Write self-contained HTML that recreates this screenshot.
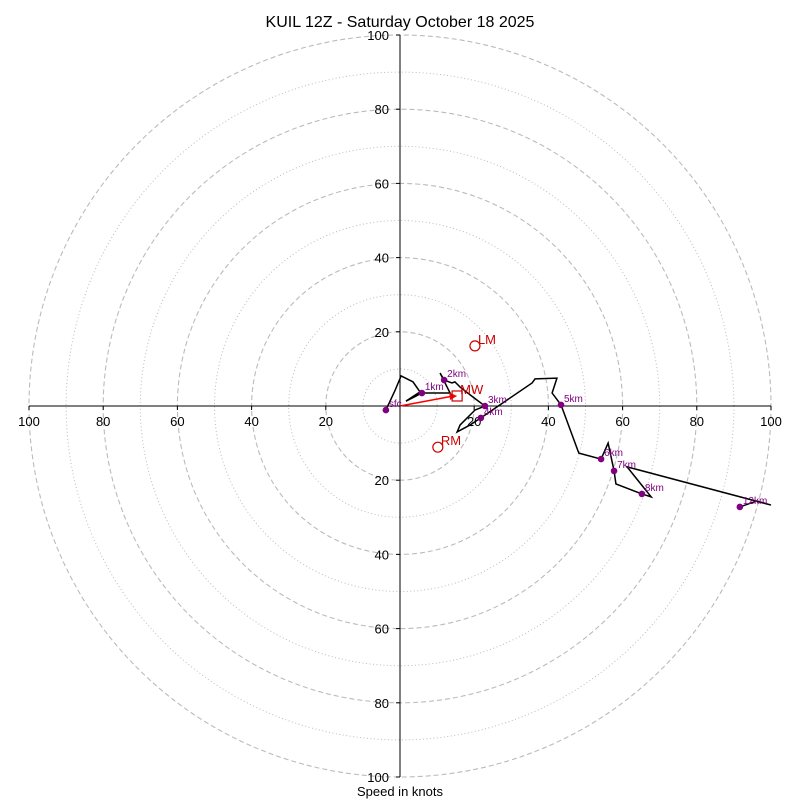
<!DOCTYPE html>
<html><head><meta charset="utf-8"><style>
body{margin:0;background:#fff;}
svg{display:block;font-family:"Liberation Sans","DejaVu Sans",sans-serif;}
</style></head><body>
<svg id="chart" width="800" height="800">
<text x="400" y="27" text-anchor="middle" font-size="16">KUIL 12Z - Saturday October 18 2025</text>
<text x="400" y="796" text-anchor="middle" font-size="13">Speed in knots</text>
<g id="grid"></g><g id="axes"></g><g id="series"></g>
</svg>
<script>
const ringValues=[10,20,30,40,50,60,70,80,90,100];
const tickLabels=[20,40,60,80,100];
const pathU=[-3.8,-1.3,0.3,3.5,5.4,1.6,3.8,5.9,13.5,10.8,11.9,14.0,14.8,16.2,19.7,22.9,20.2,16.2,15.4,18.9,21.8,35.6,36.4,42.3,41.0,43.4,48.2,54.2,56.1,57.7,58.2,65.2,67.7,61.2,100,96.2,91.6];
const pathV=[-1.1,4.3,8.1,6.5,3.8,1.3,2.4,3.5,3.5,8.9,7.0,6.2,6.5,5.1,2.4,0,-1.1,-5.1,-7.0,-5.1,-3.2,6.2,7.3,7.5,3.5,0.3,-12.7,-14.3,-10.0,-17.5,-21.0,-23.7,-24.5,-16.4,-26.7,-25.6,-27.2];
const markerLabels=["sfc","1km","2km","3km","4km","5km","6km","7km","8km","12km"];
const markerU=[-3.8,5.9,11.9,22.9,21.8,43.4,54.2,57.7,65.2,91.6];
const markerV=[-1.1,3.5,7.0,0,-3.2,0.3,-14.3,-17.5,-23.7,-27.2];
const lmUV=[20.2,16.2], rmUV=[10.2,-11.1], mwUV=[15.4,2.7];

const CX=400,CY=406,S=3.71;
const X=u=>CX+u*S, Y=v=>CY-v*S;
const NS="http://www.w3.org/2000/svg";
function mk(tag,attrs,parent,txt){const e=document.createElementNS(NS,tag);for(const k in attrs)e.setAttribute(k,attrs[k]);if(txt!==undefined)e.textContent=txt;document.getElementById(parent).appendChild(e);return e;}

ringValues.forEach(r=>{
  const c=mk('circle',{cx:CX,cy:CY,r:r*S,fill:'none',stroke:'#bbb','stroke-width':r%20===0?1.1:1,'stroke-dasharray':r%20===0?'5,3':'1,2.5'},'grid');
  
  
});
let l=mk('line',{x1:X(-100),y1:CY,x2:X(100),y2:CY,stroke:'#000','stroke-width':1},'axes');


l=mk('line',{x1:CX,y1:Y(100),x2:CX,y2:Y(-100),stroke:'#000','stroke-width':1},'axes');


tickLabels.forEach(t=>{
  [1,-1].forEach(s=>{
    let tx=mk('text',{x:X(s*t),y:CY+20,'text-anchor':'middle','font-size':13},'axes',t);
    
    
    mk('line',{x1:X(s*t),y1:CY,x2:X(s*t),y2:CY+4,stroke:'#000'},'axes');
    let ty=mk('text',{x:CX-11,y:Y(s*t)+5,'text-anchor':'end','font-size':13},'axes',t);
    
    
    mk('line',{x1:CX-4,y1:Y(s*t),x2:CX,y2:Y(s*t),stroke:'#000'},'axes');
  });
});
const p=mk('polyline',{points:pathU.map((u,i)=>X(u)+','+Y(pathV[i])).join(' '),fill:'none',stroke:'#000','stroke-width':1.5,'stroke-linejoin':'miter'},'series');


// storm motion arrow
const a=mk('line',{x1:X(0),y1:Y(0),x2:X(mwUV[0]-1),y2:Y(mwUV[1]),stroke:'red','stroke-width':1.6},'series');


const ah=mk('polygon',{points:`${X(mwUV[0])},${Y(mwUV[1])} ${X(mwUV[0])-8},${Y(mwUV[1])-3.5} ${X(mwUV[0])-7},${Y(mwUV[1])+4}`,fill:'red'},'series');


markerLabels.forEach((lab,i)=>{
  const c=mk('circle',{cx:X(markerU[i]),cy:Y(markerV[i]),r:3.3,fill:'purple'},'series');
  
  
  const t=mk('text',{x:X(markerU[i])+3,y:Y(markerV[i])-3,'font-size':10,fill:'purple'},'series',lab);
  
  
});
let e=mk('circle',{cx:X(lmUV[0]),cy:Y(lmUV[1]),r:5,fill:'none',stroke:'#c00','stroke-width':1.2},'series');


e=mk('text',{x:X(lmUV[0])+3,y:Y(lmUV[1])-2,'font-size':13,fill:'#c00'},'series','LM');


e=mk('circle',{cx:X(rmUV[0]),cy:Y(rmUV[1]),r:5,fill:'none',stroke:'#c00','stroke-width':1.2},'series');


e=mk('text',{x:X(rmUV[0])+3,y:Y(rmUV[1])-2,'font-size':13,fill:'#c00'},'series','RM');


e=mk('rect',{x:X(mwUV[0])-5,y:Y(mwUV[1])-5,width:10,height:10,fill:'none',stroke:'#c00','stroke-width':1.2},'series');


e=mk('text',{x:X(mwUV[0])+3,y:Y(mwUV[1])-2,'font-size':13,fill:'#c00'},'series','MW');


</script>
</body></html>
